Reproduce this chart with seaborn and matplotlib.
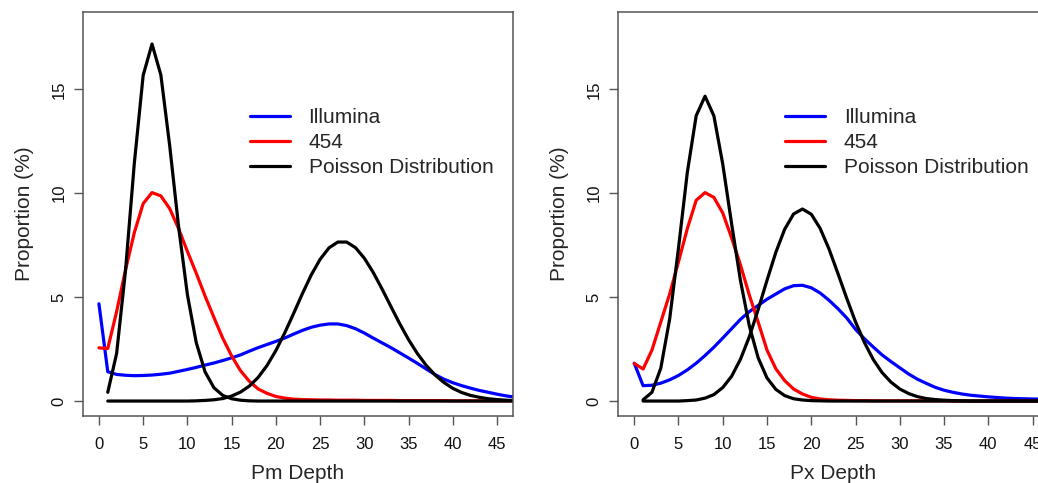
import seaborn as sns
import matplotlib.pyplot as plt
import pandas as pd
from matplotlib.lines import Line2D

# depth values (x) for the sequencing curves and for the poisson curves
depth = list(range(0, 48))
pois_depth = list(range(1, 48))

# Pm panel
pm_illumina = [4.68, 1.41, 1.28, 1.24, 1.22, 1.23, 1.25, 1.29, 1.34, 1.43,
               1.52, 1.62, 1.73, 1.83, 1.95, 2.08, 2.22, 2.40, 2.57, 2.72,
               2.87, 3.03, 3.22, 3.40, 3.55, 3.65, 3.71, 3.71, 3.63, 3.48,
               3.27, 3.03, 2.80, 2.57, 2.32, 2.07, 1.81, 1.54, 1.27, 1.05,
               0.88, 0.74, 0.62, 0.51, 0.42, 0.33, 0.25, 0.19]
pm_454 = [2.56, 2.53, 4.3, 6.3, 8.1, 9.5, 10.03, 9.87, 9.26, 8.3,
          7.2, 6.15, 5.05, 4.02, 3.02, 2.17, 1.46, 0.95, 0.58, 0.37,
          0.22, 0.14, 0.09, 0.07, 0.06, 0.05, 0.05, 0.04, 0.04, 0.04,
          0.03, 0.03, 0.03, 0.03, 0.02, 0.02, 0.02, 0.02, 0.02, 0.02,
          0.01, 0.01, 0.01, 0.01, 0.01, 0.01, 0.01, 0.01]
pm_pois_low = [0.42, 2.29, 6.26, 11.44, 15.67, 17.18, 15.69, 12.28, 8.41, 5.12,
               2.81, 1.40, 0.64, 0.27, 0.11, 0.04, 0.01] + [0] * 30
pm_pois_high = [0, 0, 0, 0, 0, 0, 0, 0, 0, 0,
                0.01, 0.03, 0.06, 0.12, 0.24, 0.43, 0.72, 1.14, 1.71, 2.43,
                3.28, 4.21, 5.17, 6.07, 6.82, 7.37, 7.65, 7.65, 7.38, 6.87,
                6.19, 5.39, 4.55, 3.72, 2.95, 2.28, 1.71, 1.25, 0.89, 0.61,
                0.41, 0.27, 0.18, 0.11, 0.07, 0.04, 0.02]

# Px panel
px_illumina = [1.82, 0.74, 0.76, 0.86, 1.02, 1.23, 1.5, 1.82, 2.19, 2.59,
               3.03, 3.48, 3.93, 4.3, 4.6, 4.9, 5.15, 5.4, 5.55, 5.57,
               5.45, 5.2, 4.85, 4.45, 4.0, 3.45, 3.0, 2.6, 2.22, 1.9,
               1.6, 1.3, 1.05, 0.85, 0.66, 0.52, 0.42, 0.34, 0.28, 0.24,
               0.2, 0.17, 0.14, 0.12, 0.11, 0.1, 0.09, 0.08]
px_454 = [1.81, 1.54, 2.45, 3.8, 5.15, 6.7, 8.3, 9.66, 10.03, 9.8,
          9.05, 7.85, 6.55, 5.1, 3.8, 2.45, 1.55, 0.98, 0.58, 0.34,
          0.18, 0.1, 0.06, 0.04, 0.03, 0.02, 0.02, 0.01, 0.01, 0.01,
          0.01, 0.01, 0.01, 0.01, 0.01, 0.01] + [0] * 12
px_pois_low = [0.06, 0.42, 1.58, 3.94, 7.36, 11.01, 13.73, 14.67, 13.72, 11.40,
               8.53, 5.80, 3.62, 2.08, 1.11, 0.56, 0.26, 0.11, 0.05, 0.02,
               0.01] + [0] * 26
px_pois_high = [0, 0, 0, 0, 0, 0.02, 0.05, 0.14, 0.31, 0.65,
                1.19, 2.01, 3.09, 4.40, 5.81, 7.16, 8.27, 9.00, 9.24, 8.99,
                8.31, 7.32, 6.15, 4.95, 3.81, 2.82, 2.00, 1.37, 0.91, 0.58,
                0.36, 0.21, 0.12, 0.07, 0.04, 0.02, 0.01] + [0] * 10

legend_labels = ["Illumina", "454", "Poisson Distribution"]
colors = ["#0000ff", "#ff0000", "#000000"]

sns.set_style("ticks")
plt.rcParams['font.family'] = ['Liberation Sans', 'DejaVu Sans']

fig = plt.figure(figsize=(10.38, 4.83), dpi=100)
W, H = 1038, 483
ax1 = fig.add_axes([83 / W, 1 - 416 / H, 430 / W, 404 / H])
ax2 = fig.add_axes([618.3 / W, 1 - 416 / H, 430.2 / W, 404 / H])

panels = [
    (ax1, pm_illumina, pm_454, pm_pois_low, pm_pois_high, "Pm Depth"),
    (ax2, px_illumina, px_454, px_pois_low, px_pois_high, "Px Depth"),
]

lw = 2.3
for ax, illu, r454, plow, phigh, xlab in panels:
    df = pd.DataFrame({"depth": depth, "Illumina": illu, "454": r454})
    dp = pd.DataFrame({"depth": pois_depth, "low": plow, "high": phigh})
    sns.lineplot(data=df, x="depth", y="Illumina", color=colors[0], lw=lw, ax=ax, estimator=None)
    sns.lineplot(data=df, x="depth", y="454", color=colors[1], lw=lw, ax=ax, estimator=None)
    sns.lineplot(data=dp, x="depth", y="low", color=colors[2], lw=lw, ax=ax, estimator=None)
    sns.lineplot(data=dp, x="depth", y="high", color=colors[2], lw=lw, ax=ax, estimator=None)

    ax.set_xlim(-1.8, 46.8)
    ax.set_ylim(-0.72, 18.72)
    ax.set_xticks(range(0, 50, 5))
    ax.set_yticks([0, 5, 10, 15])
    for s in ax.spines.values():
        s.set_visible(True)
        s.set_color("#555555")
        s.set_linewidth(1.1)
    ax.tick_params(axis="both", length=6.5, width=1.0, color="#555555",
                   labelsize=12, labelcolor="#111111")
    ax.tick_params(axis="x", pad=8.5)
    ax.tick_params(axis="y", pad=5.5)
    plt.setp(ax.get_yticklabels(), rotation=90, va="center")

    ax.set_xlabel(xlab, fontsize=15)
    ax.set_ylabel("Proportion (%)", fontsize=15)
    ax.xaxis.set_label_coords(0.5, -0.118)
    ax.yaxis.set_label_coords(-0.114, 0.5)

    handles = [Line2D([], [], color=c, lw=lw) for c in colors]
    ax.legend(handles, legend_labels, loc="upper left", bbox_to_anchor=(0.388, 0.762),
              frameon=False, fontsize=15, handlelength=1.92, handletextpad=0.9,
              labelspacing=0.29, borderpad=0, borderaxespad=0)

fig.savefig("out.png", dpi=100)
